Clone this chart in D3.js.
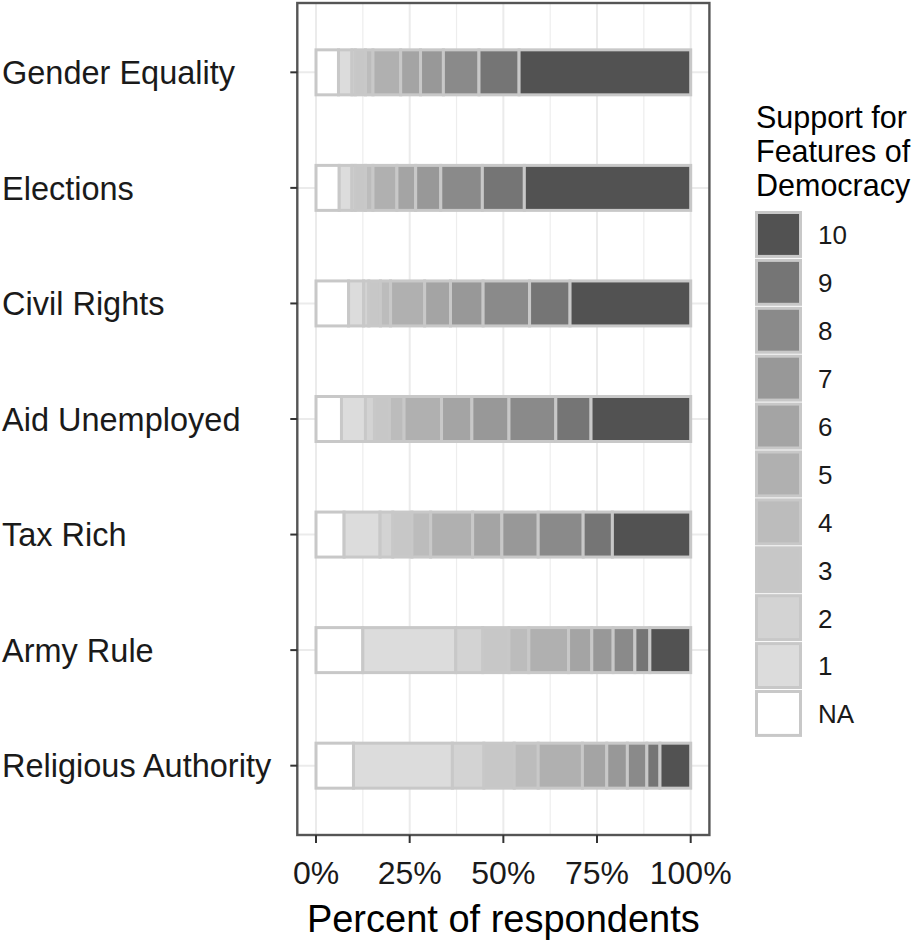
<!DOCTYPE html>
<html>
<head>
<meta charset="utf-8">
<script src="https://cdn.jsdelivr.net/npm/d3@7"></script>
<style>
  html, body { margin: 0; padding: 0; background: #fff; }
  svg { display: block; font-family: "Liberation Sans", Arial, Helvetica, sans-serif; }
</style>
</head>
<body>
<svg id="chart" width="921" height="950"></svg>
<script>
// ---- data ----
const categories = ["Gender Equality", "Elections", "Civil Rights", "Aid Unemployed", "Tax Rich", "Army Rule", "Religious Authority"];
const levels = ["NA", "1", "2", "3", "4", "5", "6", "7", "8", "9", "10"];
// percent of respondents per level (NA, 1..10)
const genderEquality     = [6.0, 3.6, 0.9, 2.7, 2.0, 7.4, 5.3, 6.1, 9.5, 10.7, 45.8];
const elections          = [6.2, 3.4, 0.9, 2.7, 2.0, 6.4, 5.0, 6.7, 11.1, 11.2, 44.4];
const civilRights        = [8.7, 4.0, 1.4, 3.1, 2.7, 9.1, 6.9, 8.7, 12.4, 10.8, 32.2];
const aidUnemployed      = [6.8, 6.4, 2.4, 4.0, 3.9, 10.0, 8.1, 9.9, 12.5, 9.4, 26.6];
const taxRich            = [7.5, 9.6, 3.4, 5.1, 5.0, 11.2, 7.8, 9.7, 12.0, 7.8, 20.9];
const armyRule           = [12.5, 24.8, 7.2, 7.0, 5.3, 10.6, 6.2, 5.7, 5.8, 4.0, 10.9];
const religiousAuthority = [10.0, 26.4, 8.4, 8.1, 6.4, 11.8, 6.5, 5.5, 5.2, 3.5, 8.2];
const seriesValues = [genderEquality, elections, civilRights, aidUnemployed, taxRich, armyRule, religiousAuthority];
const levelColors = ["#ffffff", "#dcdcdc", "#d3d3d3", "#c7c7c7", "#bcbcbc", "#b0b0b0", "#a4a4a4", "#989898", "#8a8a8a", "#757575", "#525252"];
const xTicks = [0, 0.25, 0.5, 0.75, 1];
const xTickLabels = ["0%", "25%", "50%", "75%", "100%"];
const xMinorTicks = [0.125, 0.375, 0.625, 0.875];
const legendTitle = ["Support for", "Features of", "Democracy"];
const xTitle = "Percent of respondents";

// ---- layout ----
const svg = d3.select("#chart");
const panel = { left: 297.3, right: 709.4, top: 3, bottom: 835 };
const x = d3.scaleLinear().domain([0, 1]).range([316, 690.7]);
const y = d3.scalePoint().domain(categories).range([panel.top, panel.bottom]).padding(0.6);
const color = d3.scaleOrdinal().domain(levels).range(levelColors);
const barH = 45;
const outline = "#c8c8c8";

// grid
const grid = svg.append("g");
grid.selectAll("line.minor").data(xMinorTicks).join("line")
  .attr("x1", d => x(d)).attr("x2", d => x(d))
  .attr("y1", panel.top).attr("y2", panel.bottom)
  .attr("stroke", "#ededed").attr("stroke-width", 1.2);
grid.selectAll("line.major").data(xTicks).join("line")
  .attr("x1", d => x(d)).attr("x2", d => x(d))
  .attr("y1", panel.top).attr("y2", panel.bottom)
  .attr("stroke", "#ebebeb").attr("stroke-width", 2);
grid.selectAll("line.h").data(categories).join("line")
  .attr("x1", panel.left).attr("x2", panel.right)
  .attr("y1", d => y(d)).attr("y2", d => y(d))
  .attr("stroke", "#ebebeb").attr("stroke-width", 2);

// stacked bars
const stackedRows = categories.map((c, i) => {
  let acc = 0;
  return seriesValues[i].map((v, j) => {
    const s = { cat: c, level: levels[j], x0: acc / 100, x1: (acc + v) / 100 };
    acc += v;
    return s;
  });
});
const bars = svg.append("g");
stackedRows.forEach(row => {
  bars.selectAll(null).data(row).join("rect")
    .attr("x", d => x(d.x0))
    .attr("width", d => Math.max(0, x(d.x1) - x(d.x0)))
    .attr("y", d => y(d.cat) - barH / 2)
    .attr("height", barH)
    .attr("fill", d => color(d.level))
    .attr("stroke", outline)
    .attr("stroke-width", 3);
});

// panel border
svg.append("rect")
  .attr("x", panel.left).attr("y", panel.top)
  .attr("width", panel.right - panel.left).attr("height", panel.bottom - panel.top)
  .attr("fill", "none").attr("stroke", "#555555").attr("stroke-width", 2.4);

// y axis ticks & labels
const yAxis = svg.append("g");
yAxis.selectAll("line").data(categories).join("line")
  .attr("x1", panel.left - 7).attr("x2", panel.left)
  .attr("y1", d => y(d)).attr("y2", d => y(d))
  .attr("stroke", "#333").attr("stroke-width", 2);
yAxis.selectAll("text").data(categories).join("text")
  .attr("x", 2).attr("y", d => y(d)).attr("dy", "0.36em")
  .attr("font-size", 32.5).attr("fill", "#1a1a1a")
  .text(d => d);

// x axis ticks & labels
const xAxis = svg.append("g");
xAxis.selectAll("line").data(xTicks).join("line")
  .attr("x1", d => x(d)).attr("x2", d => x(d))
  .attr("y1", panel.bottom).attr("y2", panel.bottom + 8)
  .attr("stroke", "#333").attr("stroke-width", 2);
xAxis.selectAll("text").data(xTicks).join("text")
  .attr("x", d => x(d)).attr("y", 884)
  .attr("text-anchor", "middle").attr("font-size", 32).attr("fill", "#1a1a1a")
  .text((d, i) => xTickLabels[i]);
svg.append("text")
  .attr("x", (panel.left + panel.right) / 2).attr("y", 932)
  .attr("text-anchor", "middle").attr("font-size", 38).attr("fill", "#000")
  .text(xTitle);

// legend
const lg = svg.append("g");
lg.selectAll("text.title").data(legendTitle).join("text")
  .attr("x", 756).attr("y", (d, i) => 128 + i * 34)
  .attr("font-size", 30.5).attr("fill", "#000")
  .text(d => d);
const keyTop = 211, keyStep = 47.9, keyX = 755, keySize = 47;
const legendLevels = levels.slice().reverse();
lg.selectAll("rect.bg").data(legendLevels).join("rect")
  .attr("x", keyX).attr("y", (d, i) => keyTop + i * keyStep)
  .attr("width", keySize).attr("height", keyStep - 1)
  .attr("fill", "#f2f2f2");
lg.selectAll("rect.key").data(legendLevels).join("rect")
  .attr("x", keyX + 1.5).attr("y", (d, i) => keyTop + i * keyStep + 1.5)
  .attr("width", keySize - 3).attr("height", keyStep - 4)
  .attr("fill", d => color(d)).attr("stroke", outline).attr("stroke-width", 3);
lg.selectAll("text.lab").data(legendLevels).join("text")
  .attr("x", 818).attr("y", (d, i) => keyTop + i * keyStep + keyStep / 2).attr("dy", "0.36em")
  .attr("font-size", 26).attr("fill", "#1a1a1a")
  .text(d => d);
</script>
</body>
</html>
